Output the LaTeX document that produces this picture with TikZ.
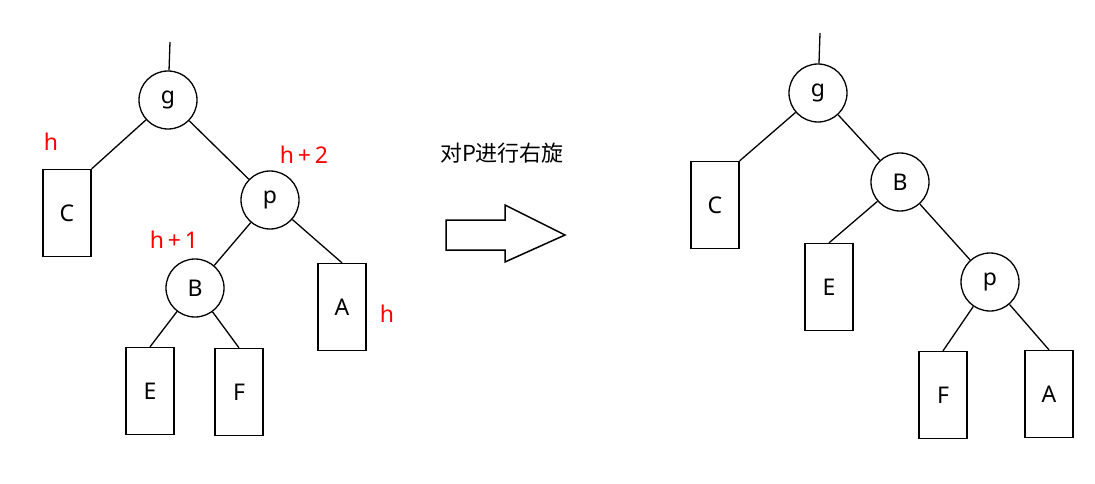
\documentclass[tikz,border=0pt]{standalone}
\usepackage{fontspec}
\setmainfont{Noto Sans}
\newfontfamily\cjk{Noto Sans CJK SC}
\begin{document}
\begin{tikzpicture}[x=1pt,y=-1pt,line width=1.3pt,
  circ/.style={draw,circle,minimum size=58pt,inner sep=0pt,font=\fontsize{23}{28}\selectfont},
  box/.style={draw,rectangle,minimum width=48pt,minimum height=87pt,inner sep=0pt,font=\fontsize{23}{28}\selectfont},
  lab/.style={text=red,font=\fontsize{23}{28}\selectfont}]
\useasboundingbox (0,0) rectangle (1095,484);
% left tree
\node[circ] (g1) at (168,100) {g};
\coordinate (t1) at (170,42);
\node[box] (C1) at (67,213) {C};
\node[circ] (p1) at (270,200) {p};
\node[circ] (B1) at (195,288) {B};
\node[box] (A1) at (342,307) {A};
\node[box] (E1) at (150,391) {E};
\node[box] (F1) at (239,392) {F};
\draw (t1) -- (g1);
\draw (g1) -- (C1.north east) ;
\draw (g1) -- (p1);
\draw (p1) -- (B1);
\draw (p1) -- (A1.north);
\draw (B1) -- (E1.north);
\draw (B1) -- (F1.north);
\node[lab] (l1) at (51,142) {h};
\node[lab] (l2) at (304,155) {h\,+\,2};
\node[lab] (l3) at (174,240) {h\,+\,1};
\node[lab] (l4) at (387,314) {h};
% arrow
\node (txt) at (502,153) {\cjk\fontsize{22}{26}\selectfont 对P进行右旋};
\draw[line width=1.5pt] (446,220) -- (505,220) -- (505,205) -- (565,235) -- (505,262) -- (505,250) -- (446,250) -- cycle;
% right tree
\node[circ] (g2) at (818,93) {g};
\coordinate (t2) at (820,33);
\node[box] (C2) at (715,205) {C};
\node[circ] (B2) at (900,182) {B};
\node[box] (E2) at (829,287) {E};
\node[circ] (p2) at (990,282) {p};
\node[box] (F2) at (943,395) {F};
\node[box] (A2) at (1049,394) {A};
\draw (t2) -- (g2);
\draw (g2) -- (C2.north east);
\draw (g2) -- (B2);
\draw (B2) -- (E2.north);
\draw (B2) -- (p2);
\draw (p2) -- (F2.north);
\draw (p2) -- (A2.north);
\end{tikzpicture}
\end{document}
